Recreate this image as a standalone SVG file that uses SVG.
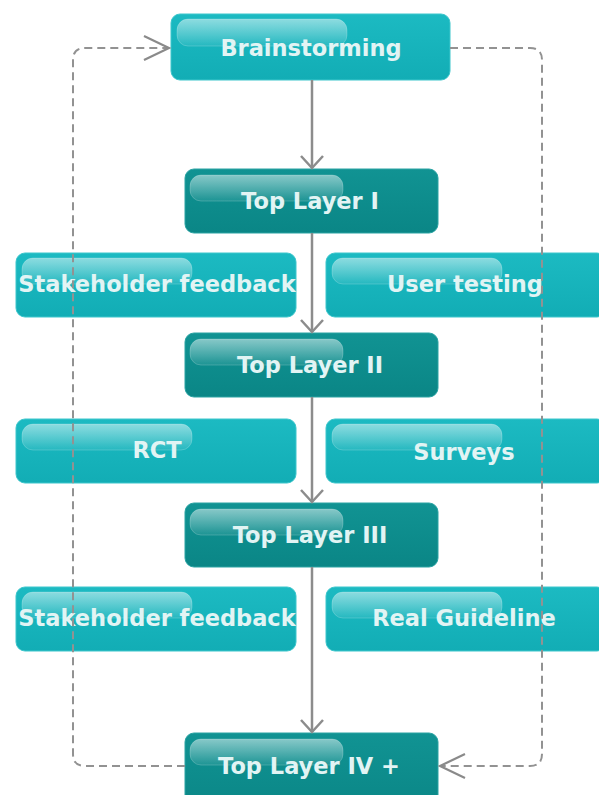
<svg xmlns="http://www.w3.org/2000/svg" width="599" height="795" viewBox="0 0 599 795">
  <defs>
    <linearGradient id="lightFill" x1="0" y1="0" x2="0" y2="1">
      <stop offset="0" stop-color="#1cbac2"/>
      <stop offset="1" stop-color="#12adb5"/>
    </linearGradient>
    <linearGradient id="darkFill" x1="0" y1="0" x2="0" y2="1">
      <stop offset="0" stop-color="#119393"/>
      <stop offset="1" stop-color="#0a8686"/>
    </linearGradient>
    <linearGradient id="gloss" x1="0" y1="0" x2="0" y2="1">
      <stop offset="0" stop-color="#ffffff" stop-opacity="0.5"/>
      <stop offset="1" stop-color="#ffffff" stop-opacity="0.06"/>
    </linearGradient>
    <marker id="solidHead" viewBox="-16 -14 18 28" refX="0" refY="0" markerWidth="18" markerHeight="28" markerUnits="userSpaceOnUse" orient="auto">
      <path d="M-12,-11 L0,0 L-12,11" fill="none" stroke="#8c8c8c" stroke-width="2.5" stroke-linejoin="miter"/>
    </marker>
    <marker id="openHead" viewBox="-28 -15 30 30" refX="0" refY="0" markerWidth="30" markerHeight="30" markerUnits="userSpaceOnUse" orient="auto">
      <path d="M-25,-12 L0,0 L-25,12" fill="none" stroke="#8a8a8a" stroke-width="2.2" stroke-dasharray="none"/>
    </marker>
  </defs>
  <style>
    .light { fill: url(#lightFill); stroke: #3cc6cc; stroke-width: 1; }
    .dark { fill: url(#darkFill); stroke: #2aa3a3; stroke-width: 1; }
    .gloss { fill: url(#gloss); stroke: #ffffff; stroke-opacity: 0.2; stroke-width: 1; }
    .label { font-family: "DejaVu Sans", "Liberation Sans", sans-serif; font-weight: bold; font-size: 22.5px; fill: #e2f4f4; text-anchor: middle; }
    .flow { fill: none; stroke: #8c8c8c; stroke-width: 2.5; marker-end: url(#solidHead); }
    .loop { fill: none; stroke: #929292; stroke-width: 2; stroke-dasharray: 8 5; marker-end: url(#openHead); }
  </style>
  <rect width="599" height="795" fill="#ffffff"/>

  <g id="brainstorming">
    <rect class="light" x="171" y="14" width="279" height="66" rx="9"/>
    <rect class="gloss" x="177" y="19" width="170" height="27" rx="11"/>
    <text class="label" x="311" y="56">Brainstorming</text>
  </g>

  <g id="top-layer-1">
    <rect class="dark" x="185" y="169" width="253" height="64" rx="9"/>
    <rect class="gloss" x="190" y="175" width="153" height="26" rx="11"/>
    <text class="label" x="310" y="209">Top Layer I</text>
  </g>

  <g id="stakeholder-feedback-1">
    <rect class="light" x="16" y="253" width="280" height="64" rx="9"/>
    <rect class="gloss" x="22" y="258" width="170" height="26" rx="11"/>
    <text class="label" x="157" y="292">Stakeholder feedback</text>
  </g>

  <g id="user-testing">
    <rect class="light" x="326" y="253" width="280" height="64" rx="9"/>
    <rect class="gloss" x="332" y="258" width="170" height="26" rx="11"/>
    <text class="label" x="465" y="292">User testing</text>
  </g>

  <g id="top-layer-2">
    <rect class="dark" x="185" y="333" width="253" height="64" rx="9"/>
    <rect class="gloss" x="190" y="339" width="153" height="26" rx="11"/>
    <text class="label" x="310" y="373">Top Layer II</text>
  </g>

  <g id="rct">
    <rect class="light" x="16" y="419" width="280" height="64" rx="9"/>
    <rect class="gloss" x="22" y="424" width="170" height="26" rx="11"/>
    <text class="label" x="157" y="458">RCT</text>
  </g>

  <g id="surveys">
    <rect class="light" x="326" y="419" width="280" height="64" rx="9"/>
    <rect class="gloss" x="332" y="424" width="170" height="26" rx="11"/>
    <text class="label" x="464" y="460">Surveys</text>
  </g>

  <g id="top-layer-3">
    <rect class="dark" x="185" y="503" width="253" height="64" rx="9"/>
    <rect class="gloss" x="190" y="509" width="153" height="26" rx="11"/>
    <text class="label" x="310" y="543">Top Layer III</text>
  </g>

  <g id="stakeholder-feedback-2">
    <rect class="light" x="16" y="587" width="280" height="64" rx="9"/>
    <rect class="gloss" x="22" y="592" width="170" height="26" rx="11"/>
    <text class="label" x="157" y="626">Stakeholder feedback</text>
  </g>

  <g id="real-guideline">
    <rect class="light" x="326" y="587" width="280" height="64" rx="9"/>
    <rect class="gloss" x="332" y="592" width="170" height="26" rx="11"/>
    <text class="label" x="464" y="626">Real Guideline</text>
  </g>

  <g id="top-layer-4">
    <rect class="dark" x="185" y="733" width="253" height="80" rx="9"/>
    <rect class="gloss" x="190" y="739" width="153" height="26" rx="11"/>
    <text class="label" x="309" y="774">Top Layer IV +</text>
  </g>

  <g id="connectors">
    <path class="flow" d="M312,80 V168"/>
    <path class="flow" d="M312,233 V332"/>
    <path class="flow" d="M312,397 V502"/>
    <path class="flow" d="M312,567 V732"/>
    <path class="loop" d="M185,766 H85 Q73,766 73,754 V60 Q73,48 85,48 H169"/>
    <path class="loop" d="M450,48 H530 Q542,48 542,60 V754 Q542,766 530,766 H440"/>
  </g>
</svg>
